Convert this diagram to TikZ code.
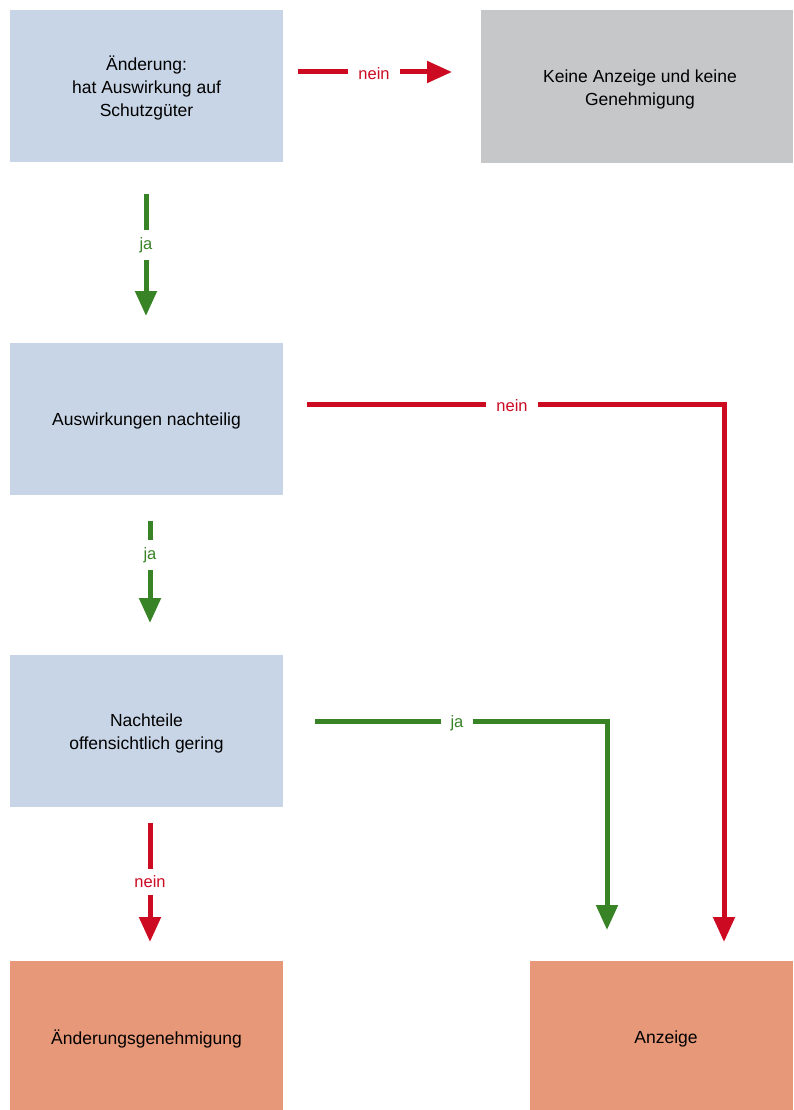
\documentclass[tikz,border=0pt]{standalone}
\usepackage{fontspec}
\setmainfont{Liberation Sans}
\usetikzlibrary{arrows.meta}
\definecolor{boxblue}{HTML}{C8D5E6}
\definecolor{boxgray}{HTML}{C6C7C9}
\definecolor{boxorange}{HTML}{E69878}
\definecolor{arrred}{HTML}{CC0A22}
\definecolor{arrgreen}{HTML}{378326}
\tikzset{
  box/.style={draw=none, minimum width=273pt, minimum height=152pt, align=center, inner sep=0pt,
    font=\fontsize{17.5}{23}\selectfont, text=black},
  boxtext/.style={align=center, inner sep=0pt, font=\fontsize{17.5}{23}\selectfont, text=black},
  flow/.style={line width=5pt, -{Triangle[length=25pt,width=21pt]}, miter limit=10},
  lab/.style={fill=white, inner xsep=10pt, inner ysep=7pt, font=\fontsize{16.5}{20}\selectfont},
}
\begin{document}
\begin{tikzpicture}[x=1pt,y=-1pt]
\useasboundingbox (0,0) rectangle (793,1110);
\fill[white] (0,0) rectangle (793,1110);
\node[box, fill=boxblue] (b1) at (146.5,86) {};
\node[boxtext] (t1) at (146.5,88) {Änderung:\\hat Auswirkung auf\\Schutzgüter};
\node[box, fill=boxgray, minimum width=312pt, minimum height=153pt] (b2) at (637,86.5) {};
\node[boxtext] (t2) at (640,89) {Keine Anzeige und keine\\Genehmigung};
\node[box, fill=boxblue] (b3) at (146.5,419) {};
\node[boxtext] (t3) at (146.5,421) {Auswirkungen nachteilig};
\node[box, fill=boxblue] (b4) at (146.5,731) {};
\node[boxtext] (t4) at (146.5,733) {Nachteile\\offensichtlich gering};
\node[box, fill=boxorange, minimum height=149pt] (b5) at (146.5,1035.5) {};
\node[boxtext] (t5) at (146.5,1039) {Änderungsgenehmigung};
\node[box, fill=boxorange, minimum width=263pt, minimum height=149pt] (b6) at (661.5,1035.5) {};
\node[boxtext] (t6) at (666,1039) {Anzeige};

\coordinate (s1) at (298,72);  \coordinate (e1) at (452,72);
\coordinate (s2) at (146,194); \coordinate (e2) at (146,316);
\coordinate (s3) at (307,404); \coordinate (c3) at (724,404); \coordinate (e3) at (724,942);
\coordinate (s4) at (150,521); \coordinate (e4) at (150,623);
\coordinate (s5) at (315,721); \coordinate (c5) at (607,721); \coordinate (e5) at (607,930);
\coordinate (s6) at (150,823); \coordinate (e6) at (150,942);

\draw[flow, arrred] (s1) -- (e1);
\node[lab, text=arrred] (l1) at (374,74) {nein};
\draw[flow, arrgreen] (s2) -- (e2);
\node[lab, text=arrgreen] (l2) at (146,245) {ja};
\draw[flow, arrred] (s3) -- (c3) -- (e3);
\node[lab, text=arrred] (l3) at (512,406) {nein};
\draw[flow, arrgreen] (s4) -- (e4);
\node[lab, text=arrgreen] (l4) at (150,555) {ja};
\draw[flow, arrgreen] (s5) -- (c5) -- (e5);
\node[lab, text=arrgreen] (l5) at (457,723) {ja};
\draw[flow, arrred] (s6) -- (e6);
\node[lab, text=arrred] (l6) at (150,882) {nein};
\end{tikzpicture}
\end{document}
